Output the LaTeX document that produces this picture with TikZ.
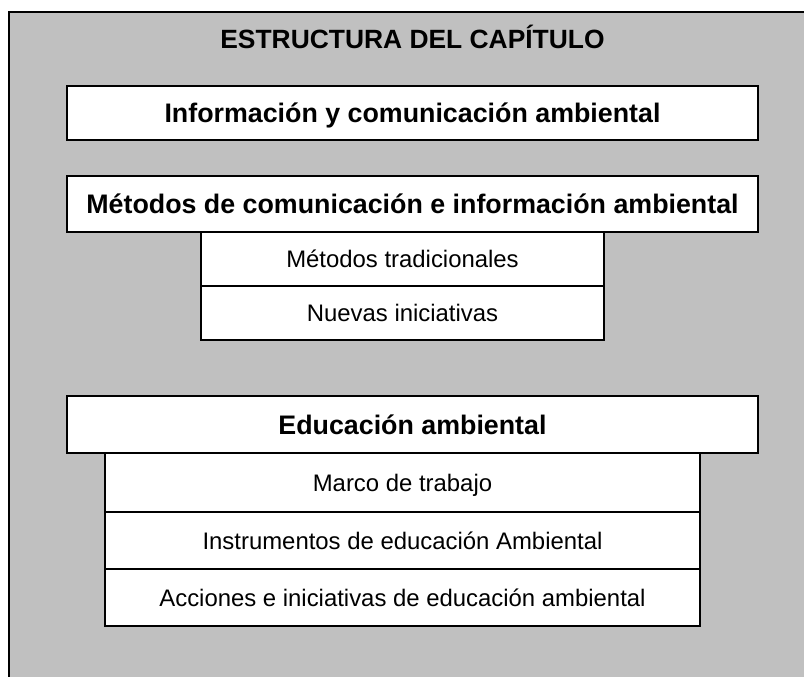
\documentclass[tikz,border=0pt]{standalone}
\usepackage{fontspec}
\setmainfont{Liberation Sans}
\definecolor{panelgray}{HTML}{C0C0C0}
\tikzset{
  head/.style={draw=black, line width=1.8pt, fill=white, inner sep=0pt, outer sep=0pt,
    font=\bfseries\fontsize{26.8}{30}\selectfont, text height=19pt, text depth=0pt},
  item/.style={draw=black, line width=1.8pt, fill=white, inner sep=0pt, outer sep=0pt,
    font=\fontsize{23.9}{28}\selectfont, text height=17pt, text depth=0pt},
  ttl/.style={inner sep=0pt, font=\bfseries\fontsize{26.4}{30}\selectfont, text height=18.8pt, text depth=0pt}
}
\begin{document}
\begin{tikzpicture}[x=1pt,y=1pt]
\useasboundingbox (0,0) rectangle (804,-677);
\clip (0,0) rectangle (804,-677);
\draw[line width=1.8pt, fill=panelgray] (9,-12) rectangle (830,-700);
\node[ttl] (title) at (412.5,-39.5) {ESTRUCTURA DEL CAPÍTULO};
\node[head, minimum width=691pt, minimum height=54pt] (info) at (412.5,-113) {Información y comunicación ambiental};
\node[item, minimum width=403pt, minimum height=54pt] (trad) at (402.5,-259) {Métodos tradicionales};
\node[item, minimum width=403pt, minimum height=54pt] (nuevas) at (402.5,-313) {Nuevas iniciativas};
\node[head, minimum width=691pt, minimum height=56pt] (metodos) at (412.5,-204) {Métodos de comunicación e información ambiental};
\node[item, minimum width=595pt, minimum height=59pt] (marco) at (402.5,-482.5) {Marco de trabajo};
\node[item, minimum width=595pt, minimum height=57pt] (instr) at (402.5,-540.5) {Instrumentos de educación Ambiental};
\node[item, minimum width=595pt, minimum height=57pt] (acc) at (402.5,-597.5) {Acciones e iniciativas de educación ambiental};
\node[head, minimum width=691pt, minimum height=57pt] (edu) at (412.5,-424.5) {Educación ambiental};
\end{tikzpicture}
\end{document}
